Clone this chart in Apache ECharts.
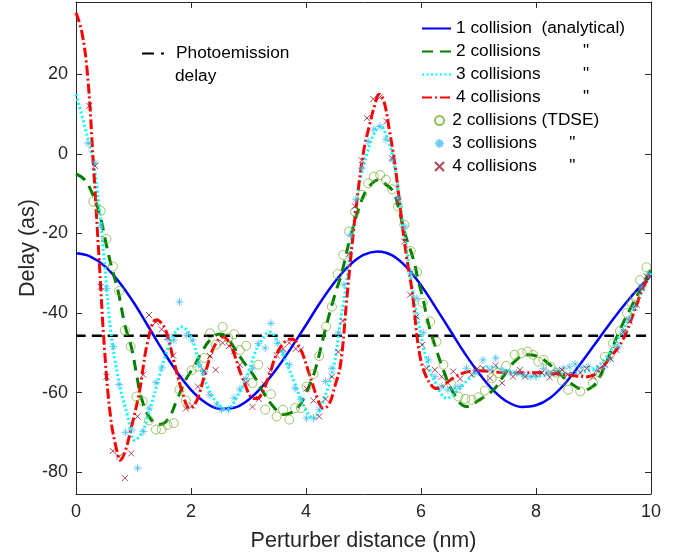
<!DOCTYPE html>
<html>
<head>
<meta charset="utf-8">
<script src="https://cdn.jsdelivr.net/npm/echarts@6/dist/echarts.min.js"></script>
<style>
  html, body { margin: 0; padding: 0; background: #fff; }
  #chart { width: 689px; height: 558px; }
</style>
</head>
<body>
<div id="chart"></div>
<script>
// 1 collision, analytical
var blueX = [0, 0.25, 0.5, 0.75, 1, 1.25, 1.5, 1.75, 2, 2.25, 2.5, 2.75, 3, 3.25, 3.5, 3.75, 4, 4.25, 4.5, 4.75, 5,
  5.25, 5.5, 5.75, 6, 6.25, 6.5, 6.75, 7, 7.25, 7.5, 7.75, 8, 8.25, 8.5, 8.75, 9, 9.25, 9.5, 9.75, 10];
var blueY = [-25, -25.8, -28.2, -32.2, -37.3, -43.2, -49.2, -54.7, -59.3, -62.5, -64.1, -63.8, -61.8, -58.3, -53.8,
  -48.6, -43, -37.3, -32.2, -28.1, -25.4, -24.5, -25.5, -28.5, -33, -38.5, -44.2, -49.9, -55, -59.3, -62.3, -63.6,
  -63.2, -61.3, -57.8, -53.2, -48.3, -43.3, -38.6, -34.3, -30.6];

// 2 collisions, analytical
var greenX = [0, 0.15, 0.3, 0.42, 0.53, 0.62, 0.74, 0.85, 0.97, 1.06, 1.14, 1.29, 1.46, 1.61, 1.75, 1.9, 2.05, 2.2,
  2.35, 2.5, 2.62, 2.74, 2.9, 3.08, 3.26, 3.43, 3.6, 3.75, 3.9, 4.05, 4.16, 4.33, 4.5, 4.62, 4.77, 4.97, 5.1, 5.26,
  5.4, 5.52, 5.6, 5.72, 5.87, 5.95, 6.04, 6.1, 6.21, 6.39, 6.56, 6.79, 7, 7.26, 7.43, 7.6, 7.84, 8.05, 8.2, 8.36,
  8.59, 8.85, 9, 9.11, 9.29, 9.46, 9.63, 9.81, 10];
var greenY = [-5, -6.5, -10.5, -15.7, -23, -28.5, -35, -43, -49, -56, -61.5, -66.5, -68, -66.5, -62, -57, -53.5,
  -49.5, -46.5, -45.3, -46, -48.5, -52, -55.5, -60, -63.5, -65.5, -65, -63, -58.5, -54.3, -44.5, -35.5, -30, -21,
  -11.6, -8.2, -6.5, -7.8, -9.5, -13, -20, -26.6, -31.7, -36.7, -41, -46.7, -54.3, -60, -63.5, -62, -59.3, -56,
  -52.6, -50.5, -51, -52.5, -54.5, -57.5, -59.3, -58.3, -56, -50.1, -44.2, -39.2, -34.2, -29];

// 3 collisions, analytical
var cyanX = [0, 0.15, 0.3, 0.4, 0.5, 0.6, 0.75, 0.9, 1.02, 1.15, 1.25, 1.4, 1.55, 1.7, 1.84, 2, 2.15, 2.3, 2.45,
  2.62, 2.8, 2.97, 3.1, 3.2, 3.37, 3.5, 3.66, 3.8, 3.95, 4.13, 4.3, 4.48, 4.6, 4.71, 4.85, 4.95, 5.06, 5.18, 5.29,
  5.4, 5.52, 5.66, 5.81, 5.95, 6.1, 6.25, 6.45, 6.6, 6.8, 7, 7.2, 7.5, 7.9, 8.3, 8.7, 9, 9.2, 9.4, 9.6, 9.8, 10];
var cyanY = [15, 7, -2, -13, -28, -44, -57.5, -66, -72, -70, -66, -58.5, -51, -45.5, -43.5, -46, -53, -59, -62.5,
  -64.3, -61, -56, -50.5, -47.5, -44.8, -47, -52.5, -57.5, -63, -66.5, -62, -53.5, -42, -31.7, -15, -6, 0, 5, 7,
  4.5, -1.5, -15, -30, -42, -52, -57.5, -61.4, -60, -57, -54.5, -53.5, -54.5, -56, -55.5, -55, -54, -51.5, -47,
  -42, -36, -30];

// 4 collisions, analytical
var redX = [0, 0.1, 0.2, 0.3, 0.4, 0.5, 0.6, 0.7, 0.77, 0.85, 0.95, 1.1, 1.25, 1.4, 1.55, 1.7, 1.85, 1.98, 2.1,
  2.25, 2.4, 2.56, 2.7, 2.9, 3.1, 3.2, 3.35, 3.5, 3.65, 3.75, 3.9, 4.05, 4.2, 4.3, 4.4, 4.5, 4.6, 4.7, 4.8, 4.9, 5,
  5.1, 5.2, 5.27, 5.35, 5.45, 5.55, 5.65, 5.75, 5.85, 5.95, 6.05, 6.2, 6.3, 6.45, 6.6, 6.8, 7, 7.5, 8, 8.5, 8.9,
  9.1, 9.3, 9.5, 9.7, 9.85, 10];
var redY = [35.5, 30.8, 20, -2, -26, -50, -66, -74, -77, -75, -69.5, -60, -47, -41.7, -44, -52, -60, -64, -62, -55,
  -48.5, -46, -48.5, -56.5, -61.5, -61, -56, -50, -47, -46.5, -49, -55, -61.5, -64, -63, -58.5, -53, -38, -23,
  -10, 0.5, 7, 12.5, 15, 13.5, 6, -3, -15, -26, -35, -48, -54.5, -58.5, -59, -57.5, -56, -54.8, -54.5, -55, -55,
  -55.5, -56, -54.5, -51, -47, -40, -34, -30];

// photoemission delay
var photoX = [0, 10];
var photoY = [-45.7, -45.7];

// TDSE, 2 collisions
var tdse2X = [0.3, 0.43, 0.53, 0.64, 0.75, 0.85, 0.95, 1.05, 1.16, 1.27, 1.39, 1.49, 1.59, 1.7, 1.8, 1.91, 2.01,
  2.11, 2.23, 2.33, 2.43, 2.55, 2.65, 2.75, 2.85, 2.96, 3.07, 3.17, 3.29, 3.39, 3.49, 3.6, 3.71, 3.81, 3.91, 4.01,
  4.13, 4.23, 4.35, 4.45, 4.55, 4.65, 4.75, 4.85, 4.97, 5.08, 5.18, 5.29, 5.39, 5.5, 5.6, 5.71, 5.82, 5.93, 6.03,
  6.16, 6.27, 6.39, 6.53, 6.65, 6.77, 6.88, 7, 7.11, 7.23, 7.34, 7.48, 7.63, 7.75, 7.85, 7.95, 8.04, 8.13, 8.25,
  8.35, 8.45, 8.56, 8.77, 8.99, 9.1, 9.2, 9.34, 9.46, 9.58, 9.66, 9.72, 9.81, 9.92];
var tdse2Y = [-12, -14.3, -21.4, -28.3, -34.4, -44.4, -48.4, -61, -62.2, -67, -69.3, -69.2, -68.1, -67.7, -59.3,
  -62, -54.4, -53.5, -51.3, -45.1, -48, -43.5, -46.3, -45.3, -49.3, -48.2, -57.6, -53, -64.3, -60.4, -66, -64.3,
  -66.8, -63.9, -63.9, -58.5, -55.3, -50.8, -43.4, -38.4, -30.2, -25.4, -19.5, -14.5, -10.3, -7.4, -5.7, -5.3,
  -6.5, -8.9, -13.2, -17.8, -24.4, -29.7, -37.4, -42.1, -47.2, -53, -58, -61, -61.6, -61.8, -61.2, -59.5, -56.4,
  -55.1, -53.3, -50.5, -50.1, -49.7, -50.5, -52.2, -51.8, -53.5, -55, -57, -59.3, -59.7, -57.6, -55, -51, -47.6,
  -44.5, -40, -37.5, -35.9, -31.7, -28.5];

// TDSE, 3 collisions
var tdse3X = [0.21, 0.33, 0.43, 0.53, 0.65, 0.75, 0.86, 0.97, 1.07, 1.17, 1.27, 1.39, 1.49, 1.6, 1.7, 1.8, 1.92,
  2.02, 2.13, 2.23, 2.33, 2.45, 2.53, 2.65, 2.75, 2.85, 2.96, 3.07, 3.17, 3.29, 3.39, 3.5, 3.6, 3.71, 3.81, 3.91,
  4.01, 4.13, 4.23, 4.34, 4.45, 4.56, 4.66, 4.77, 4.87, 4.97, 5.08, 5.18, 5.29, 5.39, 5.5, 5.6, 5.72, 5.82, 5.93,
  6.04, 6.13, 6.24, 6.36, 6.47, 6.59, 6.68, 6.79, 6.94, 7.08, 7.2, 7.3, 7.43, 7.55, 7.66, 7.78, 7.9, 8, 8.13, 8.22,
  8.35, 8.47, 8.58, 8.68, 8.8, 8.91, 9.05, 9.18, 9.29, 9.43, 9.52, 9.62, 9.71, 9.83, 9.95];
var tdse3Y = [2.7, -2.3, -18.1, -33.8, -48.4, -58, -70, -69.4, -79, -69.8, -63.9, -57.5, -53.8, -46.7, -46.8,
  -37.2, -45.6, -46.8, -53, -54.7, -60.6, -63.1, -64.3, -64.3, -61.4, -59.1, -56.5, -53.9, -47.7, -48.8, -42.6,
  -47.6, -50, -53, -58.9, -61.7, -66.4, -66.4, -64.3, -57.2, -53.9, -45, -32.9, -20.4, -11.4, -3.6, 3.1, 6.2, 6.9,
  3.7, -1.5, -11.1, -18.3, -30, -36.3, -45, -51.8, -56, -58.5, -59.3, -58.9, -58.5, -53.9, -55.1, -51.8, -54.3,
  -51.3, -54.7, -55, -55.1, -55.5, -56, -56, -53.9, -55.1, -54.5, -53.9, -53.5, -52.8, -53.7, -53.5, -54.5, -53.5,
  -51.5, -48.4, -44.7, -41.5, -38.6, -33.5, -30.2];

// TDSE, 4 collisions
var tdse4X = [0.23, 0.33, 0.43, 0.53, 0.64, 0.75, 0.85, 0.96, 1.07, 1.17, 1.27, 1.39, 1.49, 1.59, 1.69, 1.81,
  1.91, 2.02, 2.12, 2.23, 2.33, 2.43, 2.55, 2.66, 2.75, 2.85, 2.96, 3.07, 3.18, 3.28, 3.38, 3.49, 3.6, 3.71, 3.82,
  3.91, 4.01, 4.13, 4.23, 4.34, 4.45, 4.56, 4.64, 4.75, 4.85, 4.97, 5.06, 5.17, 5.28, 5.4, 5.5, 5.6, 5.71, 5.81,
  5.92, 6.02, 6.1, 6.24, 6.36, 6.46, 6.56, 6.68, 6.88, 6.98, 7.08, 7.2, 7.3, 7.41, 7.6, 7.72, 7.81, 7.98, 8.1,
  8.24, 8.35, 8.45, 8.55, 8.65, 8.77, 8.88, 9, 9.11, 9.2, 9.3, 9.4, 9.52, 9.63, 9.75, 9.84, 9.92];
var tdse4Y = [12.1, -3, -33.4, -56, -74.7, -76.1, -81.5, -75.3, -66, -55.5, -40.5, -42.3, -44.1, -46.1, -50.7,
  -56.4, -64, -63.3, -58.5, -54.5, -50.8, -54.3, -47.5, -48.3, -49.6, -53, -57.5, -63.6, -61.6, -58, -54.4, -50.6,
  -49, -47.5, -49, -49.2, -59, -62, -66, -61.6, -56, -49.8, -42, -25.1, -13.2, -1.6, 9, 13.8, 14.2, 8.2, -1.1, -12,
  -22, -35.4, -40.9, -48, -53.9, -54.3, -56, -57.5, -54.7, -56.5, -55.5, -54, -53.9, -56.4, -53.2, -57.6, -56,
  -54.3, -56, -55.3, -55, -56.2, -55, -54.3, -55.5, -55.5, -55, -53.9, -56, -53.9, -53, -51.5, -49.3, -44.7, -42.1,
  -37.9, -33.8, -30.8];

var xTicks = [0, 2, 4, 6, 8, 10];
var yTicks = [-80, -60, -40, -20, 0, 20];

function zip (xs, ys) {
  return xs.map(function (x, i) { return [x, ys[i]]; });
}

var FONT = 'Liberation Sans, Arial, Helvetica, sans-serif';
var AXIS_COLOR = '#262626';
var ASTERISK = 'path://M5,0L5,10M0,5L10,5M1.6,1.6L8.4,8.4M8.4,1.6L1.6,8.4';
var CROSS = 'path://M0,0L10,10M10,0L0,10';
var LEG_FS = 17.3;

var legendNames = {
  L1: '1 collision  (analytical)',
  L2: '{n|2 collisions}{q|"}',
  L3: '{n|3 collisions}{q|"}',
  L4: '{n|4 collisions}{q|"}',
  M2: '2 collisions (TDSE)',
  M3: '{n|3 collisions}{q|"}',
  M4: '{n|4 collisions}{q|"}',
  P: 'Photoemission'
};

function legendText (width) {
  return {
    fontSize: LEG_FS,
    fontFamily: FONT,
    color: '#000',
    lineHeight: 23,
    rich: {
      n: { width: width, fontSize: LEG_FS, fontFamily: FONT, color: '#000' },
      q: { fontSize: LEG_FS, fontFamily: FONT, color: '#000' }
    }
  };
}

function lineSeries (name, xs, ys, color, width, dash) {
  return {
    name: name,
    type: 'line',
    data: zip(xs, ys),
    smooth: 0.4,
    showSymbol: false,
    symbol: 'none',
    silent: true,
    lineStyle: { color: color, width: width, type: dash, cap: 'butt' },
    itemStyle: { color: color },
    z: 2
  };
}

function boxAxis (pos, ticks) {
  return {
    type: 'value',
    position: pos,
    axisLine: { show: true, onZero: false, lineStyle: { color: AXIS_COLOR, width: 1 } },
    axisTick: { show: true, inside: true, length: 6, customValues: ticks, lineStyle: { color: AXIS_COLOR } },
    axisLabel: { show: false, customValues: ticks },
    splitLine: { show: false }
  };
}

var xTop = boxAxis('top', xTicks);
xTop.min = 0; xTop.max = 10;
var yRight = boxAxis('right', yTicks);
yRight.min = -85.5; yRight.max = 38.2;

var option = {
  animation: false,
  backgroundColor: '#fff',
  grid: { left: 76, right: 38, top: 2, bottom: 64 },
  xAxis: [
    {
      type: 'value',
      min: 0,
      max: 10,
      position: 'bottom',
      name: 'Perturber distance (nm)',
      nameLocation: 'middle',
      nameGap: 36,
      nameTextStyle: { fontSize: 21.5, fontFamily: FONT, color: AXIS_COLOR },
      axisLine: { onZero: false, lineStyle: { color: AXIS_COLOR, width: 1 } },
      axisTick: { inside: true, length: 6, customValues: xTicks, lineStyle: { color: AXIS_COLOR } },
      axisLabel: { customValues: xTicks, fontSize: 18, fontFamily: FONT, color: AXIS_COLOR, margin: 9 },
      splitLine: { show: false }
    },
    xTop
  ],
  yAxis: [
    {
      type: 'value',
      min: -85.5,
      max: 38.2,
      position: 'left',
      name: 'Delay (as)',
      nameLocation: 'middle',
      nameGap: 37,
      nameMoveOverlap: false,
      nameTextStyle: { fontSize: 21.5, fontFamily: FONT, color: AXIS_COLOR },
      axisLine: { show: true, onZero: false, lineStyle: { color: AXIS_COLOR, width: 1 } },
      axisTick: { show: true, inside: true, length: 6, customValues: yTicks, lineStyle: { color: AXIS_COLOR } },
      axisLabel: { customValues: yTicks, fontSize: 18, fontFamily: FONT, color: AXIS_COLOR, margin: 8 },
      splitLine: { show: false }
    },
    yRight
  ],
  legend: [
    {
      data: ['L1', 'L2', 'L3', 'L4'],
      orient: 'vertical',
      left: 416,
      top: 12,
      itemWidth: 29,
      itemHeight: 14,
      itemGap: 0,
      selectedMode: false,
      itemStyle: { opacity: 0 },
      formatter: function (n) { return legendNames[n]; },
      textStyle: legendText(127)
    },
    {
      data: ['M2', 'M3', 'M4'],
      orient: 'vertical',
      left: 429,
      top: 104,
      itemWidth: 15.5,
      itemHeight: 9,
      itemGap: 0,
      selectedMode: false,
      formatter: function (n) { return legendNames[n]; },
      textStyle: legendText(117)
    },
    {
      data: ['P'],
      orient: 'vertical',
      left: 136,
      top: 37,
      itemWidth: 29,
      itemHeight: 14,
      selectedMode: false,
      itemStyle: { opacity: 0 },
      lineStyle: { type: [12, 7, 3, 20] },
      formatter: function (n) { return legendNames[n]; },
      textStyle: legendText(100)
    }
  ],
  graphic: [
    {
      type: 'text',
      left: 175,
      top: 68,
      style: { text: 'delay', fontSize: LEG_FS, fontFamily: FONT, fill: '#000' }
    }
  ],
  series: [
    lineSeries('P', photoX, photoY, '#000000', 2.5, [10, 6]),
    lineSeries('L1', blueX, blueY, '#0000ff', 2.5, 'solid'),
    lineSeries('L2', greenX, greenY, '#008000', 3, [11, 7]),
    lineSeries('L3', cyanX, cyanY, '#00ffff', 3, [2, 2.5]),
    lineSeries('L4', redX, redY, '#ff0000', 3, [10, 3, 2, 3]),
    {
      name: 'M2',
      type: 'scatter',
      data: zip(tdse2X, tdse2Y),
      symbol: 'circle',
      symbolSize: 9,
      silent: true,
      itemStyle: { color: 'rgba(0,0,0,0)', borderColor: '#77AC30', borderWidth: 0.9 },
      z: 3
    },
    {
      name: 'M3',
      type: 'scatter',
      data: zip(tdse3X, tdse3Y),
      symbol: ASTERISK,
      symbolSize: 8,
      silent: true,
      itemStyle: { color: 'rgba(0,0,0,0)', borderColor: '#4DBEEE', borderWidth: 1 },
      z: 3
    },
    {
      name: 'M4',
      type: 'scatter',
      data: zip(tdse4X, tdse4Y),
      symbol: CROSS,
      symbolSize: 6,
      silent: true,
      itemStyle: { color: 'rgba(0,0,0,0)', borderColor: '#A2142F', borderWidth: 1 },
      z: 3
    }
  ]
};

var chart = echarts.init(document.getElementById('chart'), null, { renderer: 'canvas' });
chart.setOption(option);
</script>
</body>
</html>
